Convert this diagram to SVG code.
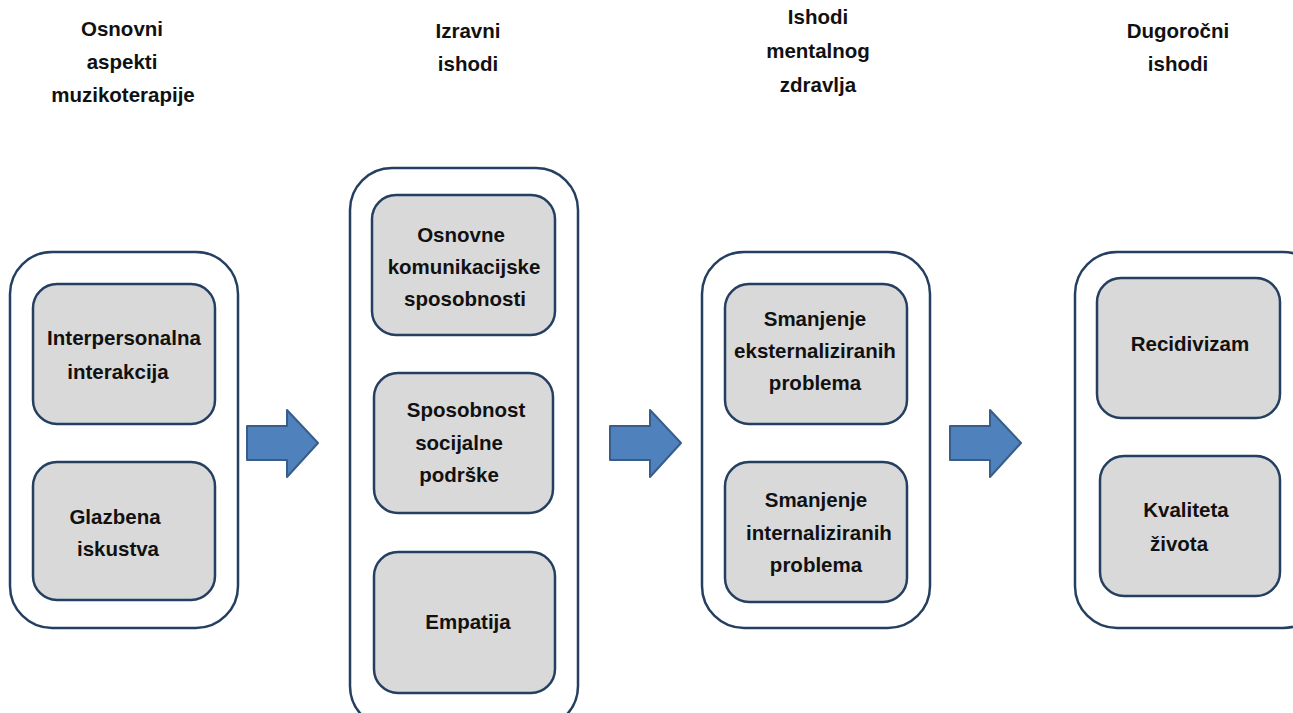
<svg xmlns="http://www.w3.org/2000/svg" width="1293" height="713" viewBox="0 0 1293 713">
<style>
.outer{fill:#ffffff;stroke:#243f60;stroke-width:2.5}
.inner{fill:#d9d9d9;stroke:#243f60;stroke-width:2.5}
.arrow{fill:#4f81bd;stroke:#385d8a;stroke-width:2;stroke-linejoin:round}
text{font-family:"Liberation Sans",Arial,sans-serif;font-weight:bold;font-size:20.5px;fill:#111;text-anchor:middle}
.hd{font-size:20.5px}
</style>
<rect width="1293" height="713" fill="#ffffff"/>
<g id="headers">
<text class="hd" x="122" y="36">Osnovni</text>
<text class="hd" x="122" y="69">aspekti</text>
<text class="hd" x="123" y="102">muzikoterapije</text>
<text class="hd" x="468" y="38">Izravni</text>
<text class="hd" x="468" y="71">ishodi</text>
<text class="hd" x="818" y="24">Ishodi</text>
<text class="hd" x="818" y="58">mentalnog</text>
<text class="hd" x="818" y="92">zdravlja</text>
<text class="hd" x="1178" y="38">Dugoročni</text>
<text class="hd" x="1178" y="71">ishodi</text>
</g>
<g id="col1">
<rect class="outer" x="10" y="252" width="228" height="376" rx="42"/>
<g id="n-interpersonalna">
<rect class="inner" x="33" y="284" width="182" height="140" rx="24"/>
<text x="124" y="345">Interpersonalna</text>
<text x="118" y="379">interakcija</text>
</g>
<g id="n-glazbena">
<rect class="inner" x="33" y="462" width="182" height="138" rx="24"/>
<text x="115" y="524">Glazbena</text>
<text x="118" y="556">iskustva</text>
</g>
</g>
<g id="col2">
<rect class="outer" x="350" y="168" width="228" height="560" rx="42"/>
<g id="n-osnovne">
<rect class="inner" x="372" y="195" width="183" height="140" rx="24"/>
<text x="461" y="242">Osnovne</text>
<text x="464" y="274">komunikacijske</text>
<text x="465" y="306">sposobnosti</text>
</g>
<g id="n-sposobnost">
<rect class="inner" x="374" y="373" width="179" height="140" rx="24"/>
<text x="466" y="417">Sposobnost</text>
<text x="459" y="450">socijalne</text>
<text x="459" y="482">podrške</text>
</g>
<g id="n-empatija">
<rect class="inner" x="374" y="552" width="181" height="141" rx="24"/>
<text x="468" y="629">Empatija</text>
</g>
</g>
<g id="col3">
<rect class="outer" x="702" y="252" width="228" height="376" rx="42"/>
<g id="n-ekst">
<rect class="inner" x="725" y="284" width="182" height="140" rx="24"/>
<text x="815" y="326">Smanjenje</text>
<text x="815" y="358">eksternaliziranih</text>
<text x="815" y="390">problema</text>
</g>
<g id="n-int">
<rect class="inner" x="725" y="462" width="182" height="140" rx="24"/>
<text x="816" y="507">Smanjenje</text>
<text x="819" y="540">internaliziranih</text>
<text x="816" y="572">problema</text>
</g>
</g>
<g id="col4">
<rect class="outer" x="1075" y="252" width="250" height="376" rx="42"/>
<g id="n-recid">
<rect class="inner" x="1097" y="278" width="183" height="140" rx="24"/>
<text x="1190" y="351">Recidivizam</text>
</g>
<g id="n-kval">
<rect class="inner" x="1100" y="456" width="180" height="140" rx="24"/>
<text x="1186" y="517">Kvaliteta</text>
<text x="1179" y="551">života</text>
</g>
</g>
<g id="connectors">
<path class="arrow" d="M247 426 H287 V410 L318 443 L287 477 V460 H247 Z"/>
<path class="arrow" d="M610 426 H650 V410 L681 443 L650 477 V460 H610 Z"/>
<path class="arrow" d="M950 426 H990 V410 L1021 443 L990 477 V460 H950 Z"/>
</g>
</svg>
